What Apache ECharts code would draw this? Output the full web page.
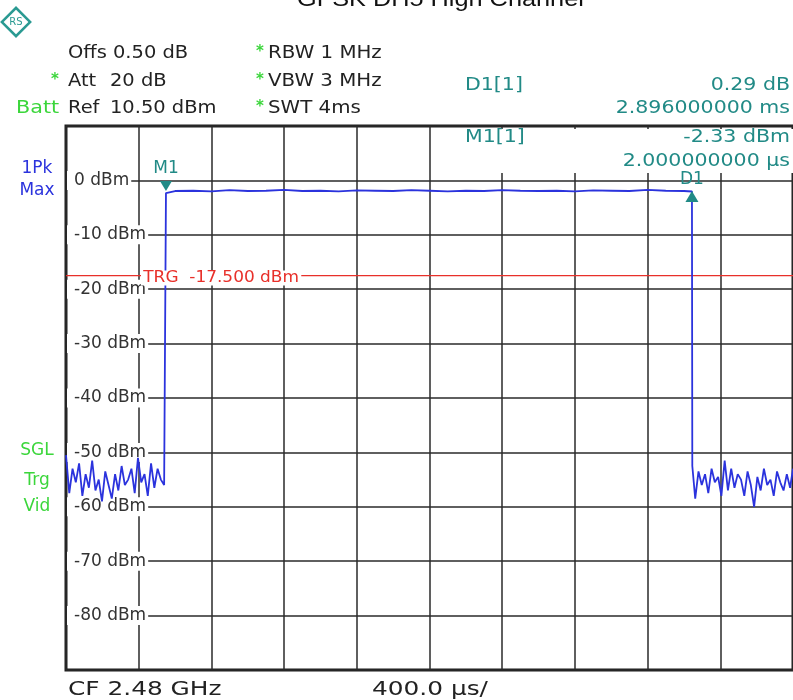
<!DOCTYPE html>
<html>
<head>
<meta charset="utf-8">
<script src="https://cdn.jsdelivr.net/npm/echarts@6/dist/echarts.min.js"></script>
<style>
html,body{margin:0;padding:0;background:#fff;}
#chart{width:793px;height:700px;}
</style>
</head>
<body>
<div id="chart"></div>
<script>
// ---- data (time in µs from screen left edge, level in dBm) ----
const titleText = 'GFSK DH5 High Channel';

const timeLeft  = [0,18,36,54,72,90,108,126,144,162,180,198,216,234,252,270,288,306,324,342,360,378,396,414,432,450,468,486,504,522,540];
const levelLeft = [-50.5,-57.5,-53,-55.5,-52,-58,-54,-56.5,-51.5,-57,-55,-59,-53.5,-56,-58.5,-54,-57,-52.5,-56,-55,-53,-57.5,-51,-55.5,-54,-58,-52,-56.5,-53,-55,-56];

const timeTop  = [550,600,700,800,900,1000,1100,1200,1300,1400,1500,1600,1700,1800,1900,2000,2100,2200,2300,2400,2500,2600,2700,2800,2900,3000,3100,3200,3300,3400,3444];
const levelTop = [-2.33,-1.95,-1.9,-2.0,-1.8,-1.95,-1.9,-1.75,-1.95,-1.9,-2.0,-1.85,-1.9,-1.95,-1.8,-1.9,-2.0,-1.9,-1.95,-1.8,-1.9,-1.95,-1.9,-2.0,-1.85,-1.9,-1.95,-1.75,-1.9,-1.95,-2.04];

const timeRight  = [3446,3462,3480,3498,3516,3534,3552,3570,3588,3606,3624,3642,3660,3678,3696,3714,3732,3750,3768,3786,3804,3822,3840,3858,3876,3894,3912,3930,3948,3966,3984,4000];
const levelRight = [-52.5,-58.5,-53.5,-56,-54,-57.5,-53,-55.5,-54.5,-58,-51.5,-57,-53,-56.5,-54,-55,-58,-53.5,-56,-60,-54.5,-57,-53,-56,-55,-58,-53.5,-55.5,-57,-54,-56.5,-53];

const triggerLevel = -17.5;
const triggerSpan = [0, 4000];
const markerM1 = [550, -2.33];
const markerD1 = [3444, -2.04];

const yTickLabels = ['0 dBm','-10 dBm','-20 dBm','-30 dBm','-40 dBm','-50 dBm','-60 dBm','-70 dBm','-80 dBm'];
const yTickValues = [0,-10,-20,-30,-40,-50,-60,-70,-80];

const headerLeft  = ['Offs 0.50 dB', 'Att', '20 dB', 'Ref', '10.50 dBm'];
const headerRight = ['RBW 1 MHz', 'VBW 3 MHz', 'SWT 4ms'];
const markerNames = ['D1[1]', 'M1[1]'];
const markerValues = ['0.29 dB', '-2.33 dBm'];
const markerPositions = ['2.896000000 ms', '2.000000000 µs'];
const footer = ['CF 2.48 GHz', '400.0 µs/'];

// ---- build ----
const trace = [];
timeLeft.forEach((t,i)=>trace.push([t, levelLeft[i]]));
timeTop.forEach((t,i)=>trace.push([t, levelTop[i]]));
timeRight.forEach((t,i)=>trace.push([t, levelRight[i]]));
const trgLine = triggerSpan.map(t => [t, triggerLevel]);

const TEAL = '#218a86';
const GREEN = '#3bd63b';
const BLUE = '#2b33dd';
const RED = '#e8302a';
const DARK = '#222';

function T(x, y, text, o) {
  o = o || {};
  const align = o.align || 'left';
  return {
    type: 'text', x: x, y: y, z: 20, scaleX: o.sx || 1, silent: true,
    style: {
      text: text, fill: o.color || DARK,
      font: (o.weight || 'normal') + ' ' + (o.size || 18) + 'px ' + (o.family || '"DejaVu Sans"'),
      textAlign: align, align: align,
      textVerticalAlign: 'middle', verticalAlign: 'middle',
      backgroundColor: o.bg, padding: o.pad
    }
  };
}

const graphics = [
  // white box behind marker readout (above grid lines, below series labels)
  {type:'rect', z: 1, silent:true, shape:{x:440, y:129, width:353, height:44}, style:{fill:'#fff'}},
  // logo
  {type:'rect', z: 20, x: 16, y: 22, rotation: Math.PI/4, silent:true, shape:{x:-10, y:-10, width:20, height:20}, style:{fill:'#fff', stroke:'#2a9a92', lineWidth:2.5}},
  T(16, 22, 'RS', {size: 10, color:'#2a9a92', align:'center'}),
  // title (cut at top)
  T(297, 0, titleText, {size: 22, family:'"Liberation Sans", Arial', sx: 1.15, color:'#111'}),
  // header left
  T(68, 53, headerLeft[0], {sx:1.08}),
  T(51, 80, '*', {color: GREEN, size:15, weight:'bold'}),
  T(68, 81, headerLeft[1], {sx:1.08}),
  T(110, 81, headerLeft[2], {sx:1.08}),
  T(16, 108, 'Batt', {color: GREEN, sx:1.15}),
  T(68, 108, headerLeft[3], {sx:1.08}),
  T(110, 108, headerLeft[4], {sx:1.08}),
  // header right
  T(256, 52, '*', {color: GREEN, size:15, weight:'bold'}),
  T(268, 53, headerRight[0], {sx:1.1}),
  T(256, 80, '*', {color: GREEN, size:15, weight:'bold'}),
  T(268, 81, headerRight[1], {sx:1.1}),
  T(256, 107, '*', {color: GREEN, size:15, weight:'bold'}),
  T(268, 108, headerRight[2], {sx:1.1}),
  // marker readout
  T(465, 85, markerNames[0], {color: TEAL, sx:1.14}),
  T(790, 85, markerValues[0], {color: TEAL, sx:1.14, align:'right'}),
  T(790, 108, markerPositions[0], {color: TEAL, sx:1.14, align:'right'}),
  T(465, 137, markerNames[1], {color: TEAL, sx:1.14}),
  T(790, 137, markerValues[1], {color: TEAL, sx:1.14, align:'right'}),
  T(790, 161, markerPositions[1], {color: TEAL, sx:1.14, align:'right'}),
  // side status
  T(37, 169, '1Pk', {color: BLUE, size:17, align:'center'}),
  T(37, 191, 'Max', {color: BLUE, size:17, align:'center'}),
  T(37, 451, 'SGL', {color: GREEN, size:17, align:'center'}),
  T(37, 481, 'Trg', {color: GREEN, size:17, align:'center'}),
  T(37, 507, 'Vid', {color: GREEN, size:17, align:'center'}),
  // trigger label
  T(141, 278, 'TRG  -17.500 dBm', {color: RED, size:15, sx:1.13, bg:'#fff', pad:[0,2,0,2]}),
  // footer
  T(68, 690, footer[0], {size:20, sx:1.24}),
  T(372, 690, footer[1], {size:20, sx:1.24})
];

const chart = echarts.init(document.getElementById('chart'), null, {renderer:'canvas'});
chart.setOption({
  animation: false,
  backgroundColor: '#fff',
  grid: {left: 66, right: 0, top: 126, bottom: 30, show: true, borderColor: '#1e1e1e', borderWidth: 3, backgroundColor: 'transparent'},
  xAxis: {
    type: 'value', min: 0, max: 4000, interval: 400,
    axisLine: {show:false}, axisTick: {show:false}, axisLabel: {show:false},
    splitLine: {show:true, lineStyle:{color:'#2a2a2a', width:1.5}}
  },
  yAxis: {
    type: 'value', min: -90, max: 10, interval: 10,
    axisLine: {show:false}, axisTick: {show:false},
    axisLabel: {
      inside: true, margin: 1, color: '#333', fontFamily: '"DejaVu Sans"', fontSize: 17,
      backgroundColor: '#fff', padding: [1,2,1,7],
      showMinLabel: false, showMaxLabel: false,
      formatter: function (v) { const i = yTickValues.indexOf(v); return i >= 0 ? yTickLabels[i] : ''; }
    },
    splitLine: {show:true, lineStyle:{color:'#2a2a2a', width:1.5}}
  },
  series: [{
    type: 'line', data: trgLine, showSymbol: false, z: 2, silent: true,
    lineStyle: {color: RED, width: 1.4}
  }, {
    type: 'line', data: trace, showSymbol: false, z: 3,
    lineStyle: {color: BLUE, width: 1.8},
    markPoint: {
      silent: true,
      data: [
        {name:'M1', coord: markerM1, symbol:'triangle', symbolRotate:180, symbolSize:[12,10], symbolOffset:[0,-7],
         itemStyle:{color:TEAL},
         label:{show:true, formatter:'M1', position:'top', distance:4, color:TEAL, fontFamily:'"DejaVu Sans"', fontSize:17}},
        {name:'D1', coord: markerD1, symbol:'triangle', symbolSize:[13,11], symbolOffset:[0,5],
         itemStyle:{color:TEAL},
         label:{show:true, formatter:'D1', position:'top', distance:3, color:TEAL, fontFamily:'"DejaVu Sans"', fontSize:17}}
      ]
    }
  }],
  graphic: graphics
});
</script>
</body>
</html>
